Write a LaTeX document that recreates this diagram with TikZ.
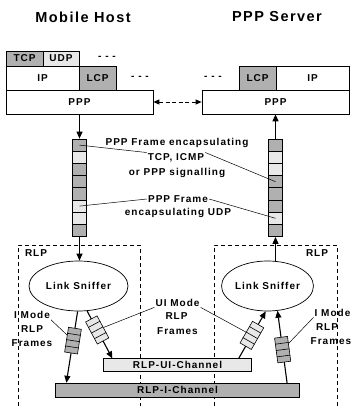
\documentclass[tikz,border=0pt]{standalone}
\usepackage{fontspec}
\setmainfont{Liberation Sans}[LetterSpace=10]
\usetikzlibrary{arrows.meta,shapes.geometric,calc}
\definecolor{framedark}{gray}{0.69}
\definecolor{framelight}{gray}{0.91}

\begin{document}
\begin{tikzpicture}[x=1pt,y=-1pt,
  every node/.style={font=\bfseries\fontsize{10}{12}\selectfont, inner sep=1pt},
  title/.style={font=\bfseries\fontsize{14.5}{16}\selectfont},
  layer/.style={draw, line width=0.7pt, minimum height=24pt, inner sep=0pt},
  cell/.style={draw, line width=0.7pt, minimum width=13.5pt, minimum height=12.2pt, inner sep=0pt},
  packet/.style={draw, line width=0.6pt, inner sep=0pt, minimum width=25pt, minimum height=13pt, sloped},
  flow/.style={line width=1.1pt, -{Triangle[length=7pt,width=6pt]}},
  leader/.style={line width=0.5pt},
  rlpbox/.style={line width=0.7pt, dash pattern=on 4pt off 3pt},
  channel/.style={draw, line width=0.7pt, inner sep=0pt, minimum height=13pt},
  sniffer/.style={ellipse, draw, line width=0.7pt, inner sep=0pt, minimum height=50pt}]
\useasboundingbox (0,0) rectangle (353,406);

% titles
\node[title] (hosttitle) at (83,17) {Mobile Host};
\node[title] (servertitle) at (277,17) {PPP Server};

% mobile host stack
\node[layer, fill=framedark, minimum width=37pt, minimum height=15pt] (tcp) at (24.5,58.5) {TCP};
\node[layer, fill=framelight, minimum width=36pt, minimum height=15pt] (udp) at (61,58.5) {UDP};
\node (dots1) at (107,58) {- - -};
\node[layer, minimum width=73pt] (ip1) at (42.5,78) {IP};
\node[layer, fill=framedark, minimum width=37pt] (lcp1) at (97.5,78) {LCP};
\node (dots2) at (140,78) {- - -};
\node[layer, minimum width=147pt] (ppp1) at (79.5,102) {PPP};

% ppp server stack
\node (dots3) at (213,78) {- - -};
\node[layer, fill=framedark, minimum width=37pt] (lcp2) at (257.5,78) {LCP};
\node[layer, minimum width=73pt] (ip2) at (312.5,78) {IP};
\node[layer, minimum width=147pt] (ppp2) at (275.5,102) {PPP};

\draw[line width=0.9pt, dash pattern=on 4pt off 2.5pt,
  {Triangle[length=6pt,width=5pt]}-{Triangle[length=6pt,width=5pt]}] (ppp1.east) -- (ppp2.west);

% ppp frames
\foreach \c [count=\i] in {framedark,framelight,framedark,framedark,framedark,framelight,framelight,framedark}
  \node[cell, fill=\c] (ls\i) at (79.5,{132.9+12.2*\i}) {};
\foreach \c [count=\i] in {framedark,framelight,framelight,framedark,framedark,framedark,framelight,framedark}
  \node[cell, fill=\c] (rs\i) at (275.5,{132.9+12.2*\i}) {};

\node (enc1) at (177,143) {PPP Frame encapsulating};
\node (tcpicmp) at (176,158) {TCP, ICMP};
\node (signal) at (177,173) {or PPP signalling};
\node (pppframe) at (178,199) {PPP Frame};
\node (encudp) at (178,213) {encapsulating UDP};
\draw[leader] (ls1.center) -- (tcpicmp.north west);
\draw[leader] (tcpicmp.north east) -- (rs4.center);
\draw[leader] (ls6.center) -- (pppframe.west);
\draw[leader] (pppframe.east) -- (rs7.center);

% RLP boxes
\draw[rlpbox] (18,406) -- (18,245) -- (140,245) -- (140,406);
\draw[rlpbox] (214,406) -- (214,245) -- (337,245) -- (337,406);
\node (rlp1) at (36,253) {RLP};
\node (rlp2) at (317,253) {RLP};

\node[sniffer, minimum width=99pt] (sniff1) at (78.5,286) {Link Sniffer};
\node[sniffer, minimum width=85pt] (sniff2) at (267.5,286) {Link Sniffer};

\node[channel, fill=framelight, minimum width=148.4pt] (uichan) at (177.5,365.3) {RLP-UI-Channel};
\node[channel, fill=framedark, minimum width=243.6pt, minimum height=13.7pt] (ichan) at (177.5,390) {RLP-I-Channel};

% frame flow
\draw[flow] (ppp1.south) -- (ls1.north);
\draw[flow] (ls8.south) -- (ls8.south |- sniff1.north);
\draw[flow] (sniff2.north -| rs8.south) -- (rs8.south);
\draw[flow] (rs1.north) -- (ppp2.south);

\draw[flow] (sniff1.-92) -- node[packet, fill=framedark, pos=0.41] (ipk1) {} ([xshift=11pt]ichan.north west);
\draw[flow] (sniff1.-71) -- node[packet, fill=framelight, pos=0.4] (uipk1) {} ([xshift=9.4pt]uichan.north west);
\draw[flow] ([xshift=-13.4pt]uichan.north east) -- node[packet, fill=framelight, pos=0.49] (uipk2) {} (sniff2.-94);
\draw[flow] ([xshift=-12.6pt]ichan.north east) -- node[packet, fill=framedark, pos=0.46] (ipk2) {} (sniff2.-68);
\foreach \p in {ipk1,uipk1,uipk2,ipk2}
  \foreach \f in {0.25,0.5,0.75}
    \draw[line width=0.6pt] ($(\p.north west)!\f!(\p.north east)$) -- ($(\p.south west)!\f!(\p.south east)$);

% rlp frame labels
\node (imodel) at (32,315) {I Mode};
\node (rlpl) at (32,329) {RLP};
\node (framesl) at (32,343) {Frames};
\node (uimode) at (177.5,302.5) {UI Mode};
\node (rlpm) at (176.5,316) {RLP};
\node (framesm) at (177.5,331) {Frames};
\node (imoder) at (332.5,312.5) {I Mode};
\node (rlpr) at (327,327) {RLP};
\node (framesr) at (331,341.5) {Frames};
\draw[leader] (imodel.south east) -- (ipk1);
\draw[leader] (uimode.south west) -- (uipk1);
\draw[leader] (uimode.south east) -- (uipk2);
\draw[leader] (imoder.south west) -- (ipk2);
\end{tikzpicture}
\end{document}
